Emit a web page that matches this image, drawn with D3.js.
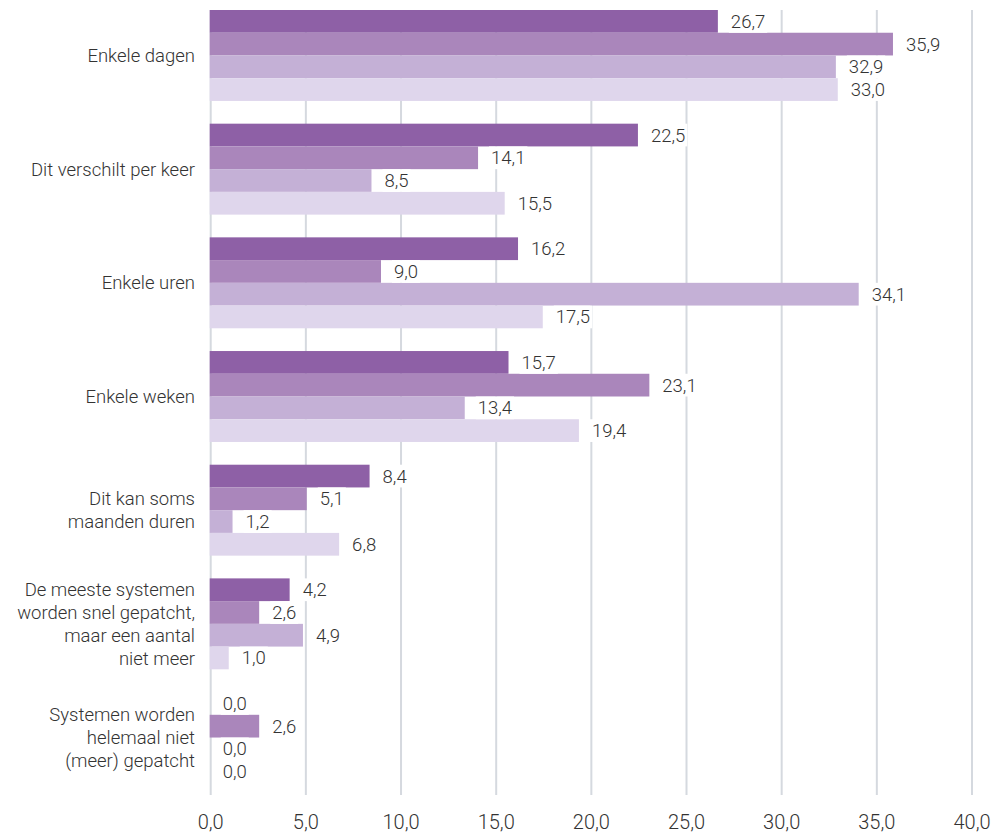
<!DOCTYPE html>
<html>
<head>
<meta charset="utf-8">
<script src="https://cdn.jsdelivr.net/npm/d3@7/dist/d3.min.js"></script>
<style>
  html, body { margin: 0; padding: 0; background: #ffffff; }
  svg { display: block; font-family: Roboto, "Noto Sans", sans-serif; }
</style>
</head>
<body>
<svg id="chart" width="1001" height="835"></svg>
<script>
// Categories (multi-line labels split on "\n")
const categories = [
  "Enkele dagen",
  "Dit verschilt per keer",
  "Enkele uren",
  "Enkele weken",
  "Dit kan soms\nmaanden duren",
  "De meeste systemen\nworden snel gepatcht,\nmaar een aantal\nniet meer",
  "Systemen worden\nhelemaal niet\n(meer) gepatcht"
];

// Four series, one value per category (percentages)
const seriesNames = ["Reeks 1", "Reeks 2", "Reeks 3", "Reeks 4"];
const series1 = [26.7, 22.5, 16.2, 15.7, 8.4, 4.2, 0.0];
const series2 = [35.9, 14.1, 9.0, 23.1, 5.1, 2.6, 2.6];
const series3 = [32.9, 8.5, 34.1, 13.4, 1.2, 4.9, 0.0];
const series4 = [33.0, 15.5, 17.5, 19.4, 6.8, 1.0, 0.0];
const seriesValues = [series1, series2, series3, series4];
const seriesColors = ["#8e60a6", "#aa86bb", "#c4b0d6", "#dfd6ec"];

// X axis ticks
const xTicks = [0, 5, 10, 15, 20, 25, 30, 35, 40];

const svg = d3.select("#chart");
const fmt = v => d3.format(".1f")(v).replace(".", ",");

const x = d3.scaleLinear().domain([0, 40]).range([209.7, 971]);
const y = d3.scaleBand().domain(categories).range([10, 783]).paddingInner(0.2).paddingOuter(0);
const ySub = d3.scaleBand().domain(d3.range(seriesNames.length)).range([0, y.bandwidth()]).padding(0);

const gridTop = 10, gridBottom = 795;

// Vertical gridlines
svg.append("g").selectAll("line").data(xTicks).join("line")
  .attr("x1", d => x(d) + 1).attr("x2", d => x(d) + 1)
  .attr("y1", gridTop).attr("y2", gridBottom)
  .attr("stroke", "#d5d9df").attr("stroke-width", 2);

// Axis labels
svg.append("g").selectAll("text").data(xTicks).join("text")
  .attr("x", d => x(d) + 1).attr("y", 829)
  .attr("text-anchor", "middle")
  .attr("font-size", 20).attr("font-weight", 300).attr("fill", "#333")
  .text(d => fmt(d));

// Flatten to one record per bar
const rows = [];
categories.forEach((c, ci) => {
  seriesValues.forEach((vals, si) => {
    rows.push({ cat: c, s: si, v: vals[ci] });
  });
});

// Bars
svg.append("g").selectAll("rect").data(rows).join("rect")
  .attr("x", x(0))
  .attr("y", d => y(d.cat) + ySub(d.s))
  .attr("width", d => x(d.v) - x(0))
  .attr("height", ySub.bandwidth())
  .attr("fill", d => seriesColors[d.s]);

// Value labels on a white box
const lbl = svg.append("g").selectAll("g").data(rows).join("g")
  .attr("transform", d => `translate(${x(d.v) + 13},${y(d.cat) + ySub(d.s) + ySub.bandwidth() / 2})`);
lbl.append("rect").attr("fill", "#ffffff");
lbl.append("text")
  .attr("dy", "0.35em")
  .attr("font-size", 18.5).attr("font-weight", 300).attr("fill", "#333")
  .text(d => fmt(d.v));
lbl.each(function () {
  const g = d3.select(this);
  const b = g.select("text").node().getBBox();
  g.select("rect")
    .attr("x", b.x - 2).attr("width", b.width + 4)
    .attr("y", -ySub.bandwidth() / 2).attr("height", ySub.bandwidth());
});

// Category labels
const lineH = 23;
svg.append("g").selectAll("text").data(categories).join("text")
  .attr("text-anchor", "end")
  .attr("font-size", 18.5).attr("font-weight", 300).attr("fill", "#333")
  .each(function (c) {
    const lines = c.split("\n");
    const cy = y(c) + y.bandwidth() / 2;
    const t = d3.select(this);
    lines.forEach((ln, i) => {
      t.append("tspan")
        .attr("x", 195)
        .attr("y", cy + (i - (lines.length - 1) / 2) * lineH)
        .attr("dy", "0.35em")
        .text(ln);
    });
  });
</script>
</body>
</html>
